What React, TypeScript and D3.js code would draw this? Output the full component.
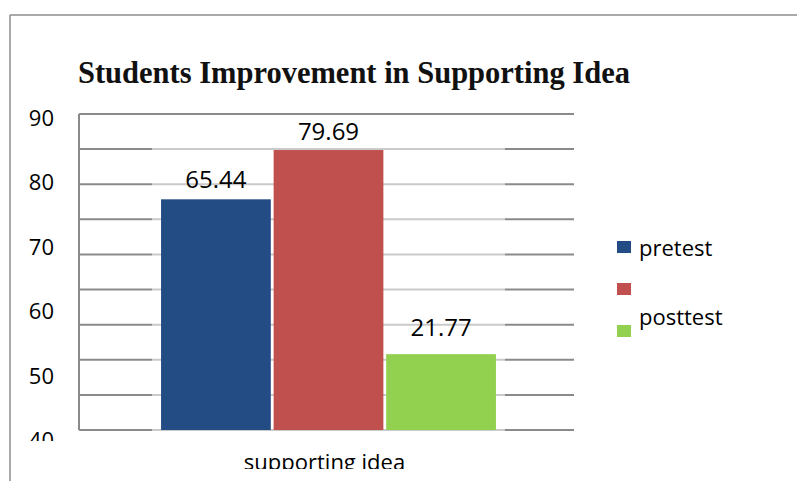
import React from "react";
import * as d3 from "d3";

// ---- data ----
const title = "Students Improvement in Supporting Idea";
const categories = ["supporting idea"];
const seriesNames = ["pretest", "", "posttest"];
const seriesKeys = ["pretest", "mid", "posttest"];
const barValues = [76.5, 84.3, 52.0]; // heights as drawn
const barLabels = ["65.44", "79.69", "21.77"]; // data labels as printed
const colors = ["#244C84", "#C0504D", "#92D050"];
const yTickLabels = [40, 50, 60, 70, 80, 90];
const gridCount = 9;

const W = 797;
const H = 481;

export default function App() {
  const plotL = 79;
  const plotR = 574;
  const plotT = 114;
  const plotB = 430;

  const y = d3.scaleLinear().domain([40, 90]).range([plotB, plotT]);
  const yLab = d3.scaleLinear().domain([40, 90]).range([448, 126]);
  const x0 = d3.scaleBand<string>().domain(categories).range([plotL, 578]).paddingOuter(0.245).paddingInner(0);
  const x1 = d3
    .scaleBand<string>()
    .domain(seriesKeys)
    .range([0, x0.bandwidth()])
    .paddingInner(0.025);

  const gridVals = d3.range(gridCount + 1).map((i) => 40 + (i * 50) / gridCount);
  const groupStart = x0(categories[0])!;
  const groupEnd = groupStart + x0.bandwidth();
  const glowTop = y(d3.max(barValues)!) - 5;
  const labelLift = [11, 10, 18];
  const font = "'Open Sans', 'Noto Sans', sans-serif";

  return (
    <svg
      width={W}
      height={H}
      style={{ position: "absolute", left: 0, top: 0, background: "#fff" }}
    >
      <defs>
        <clipPath id="bodyClip">
          <rect x={0} y={0} width={W} height={441} />
        </clipPath>
        <clipPath id="xlabClip">
          <rect x={0} y={441} width={W} height={28} />
        </clipPath>
      </defs>
      {/* outer frame */}
      <line x1={10} y1={15} x2={W} y2={15} stroke="#8c8c8c" strokeWidth={1.5} />
      <line x1={10} y1={15} x2={10} y2={H} stroke="#8c8c8c" strokeWidth={1.5} />

      {/* title */}
      <text
        x={78}
        y={83}
        fontFamily="'Liberation Serif', 'DejaVu Serif', serif"
        fontWeight="bold"
        fontSize={30.5}
        fill="#111"
      >
        {title}
      </text>

      <g clipPath="url(#bodyClip)">
        {/* gridlines */}
        {gridVals.map((v, i) => (
          <line
            key={i}
            x1={plotL}
            x2={plotR}
            y1={y(v)}
            y2={y(v)}
            stroke="#8a8a8a"
            strokeWidth={2}
          />
        ))}
        <line x1={plotL} x2={plotL} y1={plotT} y2={plotB} stroke="#8a8a8a" strokeWidth={2} />

        {/* glow panel behind bars */}
        <rect
          x={groupStart - 9}
          y={glowTop}
          width={groupEnd - groupStart + 18}
          height={441 - glowTop}
          fill="#ffffff"
          opacity={0.55}
        />

        {/* bars */}
        {seriesKeys.map((k, i) => (
          <rect
            key={k}
            x={groupStart + x1(k)!}
            y={y(barValues[i])}
            width={x1.bandwidth()}
            height={plotB - y(barValues[i])}
            fill={colors[i]}
          />
        ))}

        {/* data labels */}
        {seriesKeys.map((k, i) => (
          <text
            key={k}
            x={groupStart + x1(k)! + x1.bandwidth() / 2}
            y={y(barValues[i]) - labelLift[i]}
            textAnchor="middle"
            fontFamily={font}
            fontSize={24}
            fill="#000"
          >
            {barLabels[i]}
          </text>
        ))}

        {/* y tick labels */}
        {yTickLabels.map((v) => (
          <text
            key={v}
            x={54}
            y={yLab(v)}
            textAnchor="end"
            fontFamily={font}
            fontSize={22}
            fill="#000"
          >
            {v}
          </text>
        ))}
      </g>

      {/* x axis category label */}
      <g clipPath="url(#xlabClip)">
        {categories.map((c) => (
          <text
            key={c}
            x={x0(c)! + x0.bandwidth() / 2 - 4}
            y={470}
            textAnchor="middle"
            fontFamily={font}
            fontSize={22}
            fill="#000"
          >
            {c}
          </text>
        ))}
      </g>

      {/* legend */}
      {seriesKeys.map((k, i) => (
        <rect key={k} x={617} y={241 + i * 42} width={14} height={12} fill={colors[i]} />
      ))}
      <text x={639} y={256} fontFamily={font} fontSize={22} fill="#000">
        {seriesNames[0]}
      </text>
      <text x={639} y={275} fontFamily={font} fontSize={22} fill="#000">
        {seriesNames[1]}
      </text>
      <text x={639} y={325} fontFamily={font} fontSize={22} fill="#000">
        {seriesNames[2]}
      </text>
    </svg>
  );
}
